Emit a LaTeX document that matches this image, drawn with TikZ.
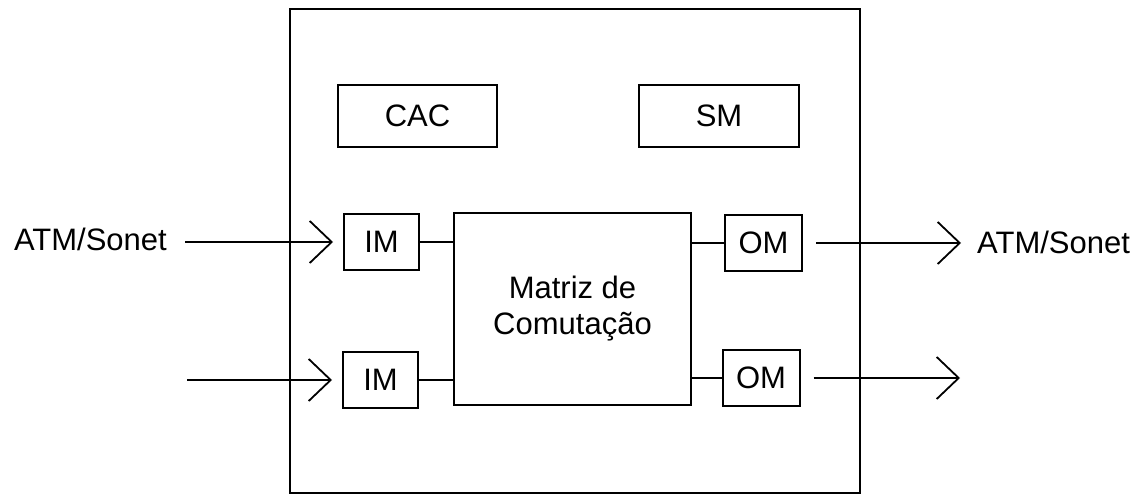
\documentclass[tikz,border=0pt]{standalone}
\usepackage{fontspec}
\setmainfont{Liberation Sans}
\usetikzlibrary{arrows.meta}
\begin{document}
\begin{tikzpicture}[x=1pt,y=-1pt,
  txt/.style={font=\fontsize{31}{36}\selectfont},
  box/.style={draw, line width=2pt, inner sep=0pt, txt, align=center},
  conn/.style={line width=1.8pt},
  sig/.style={line width=1.8pt, -{Straight Barb[length=22pt,width=42pt,line width=1.8pt]}},
  lbl/.style={inner sep=0pt, txt}]
\useasboundingbox (0,0) rectangle (1138,494);
% outer switch box
\node[draw, line width=2.2pt, inner sep=0pt, minimum width=570pt, minimum height=484pt] (sw) at (575,251) {};
% control blocks
\node[box, minimum width=159pt, minimum height=62pt] (cac) at (417.5,116) {CAC};
\node[box, minimum width=160pt, minimum height=62pt] (sm) at (719,116) {SM};
% switching matrix
\node[box, minimum width=237pt, minimum height=192pt] (mx) at (572.5,309) {Matriz de\\Comuta\c{c}\~ao};
% input / output modules
\node[box, minimum width=75pt, minimum height=56pt] (im1) at (381.5,242) {IM};
\node[box, minimum width=75pt, minimum height=56pt] (im2) at (380.5,380) {IM};
\node[box, minimum width=77pt, minimum height=56pt] (om1) at (763.5,243) {OM};
\node[box, minimum width=77pt, minimum height=56pt] (om2) at (761,378) {OM};
% module to matrix links
\draw[conn] (im1.east) -- (im1.east -| mx.west);
\draw[conn] (im2.east) -- (im2.east -| mx.west);
\draw[conn] (om1.west) -- (om1.west -| mx.east);
\draw[conn] (om2.west) -- (om2.west -| mx.east);
% external signals
\coordinate (in1) at (185,242);
\coordinate (in2) at (187,380);
\coordinate (out1) at (961,243);
\coordinate (out2) at (960,378);
\draw[sig, shorten >=10pt] (in1) -- (im1);
\draw[sig, shorten >=10pt] (in2) -- (im2);
\draw[sig, shorten <=13pt] (om1) -- (out1);
\draw[sig, shorten <=13pt] (om2) -- (out2);
% labels
\node[lbl, anchor=base east] (lin) at (167,251) {ATM/Sonet};
\node[lbl, anchor=base west] (lout) at (977,254) {ATM/Sonet};
\end{tikzpicture}
\end{document}
